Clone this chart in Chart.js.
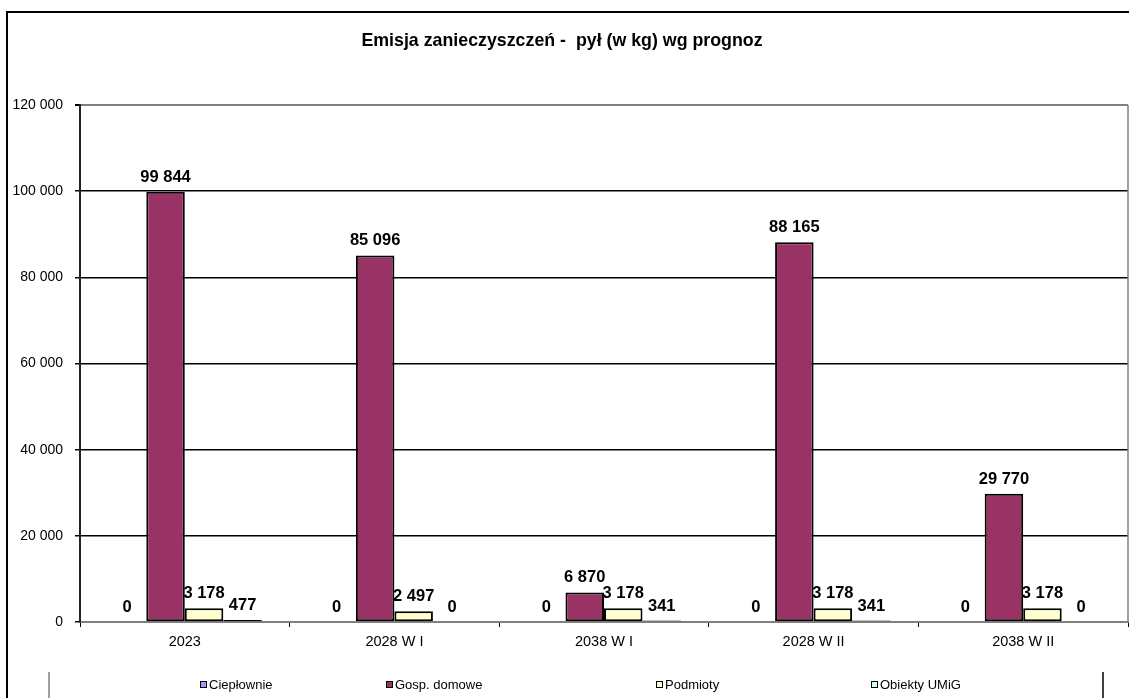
<!DOCTYPE html>
<html lang="pl">
<head>
<meta charset="utf-8">
<title>Emisja zanieczyszczeń - pył</title>
<script src="https://cdn.jsdelivr.net/npm/chart.js@4.4.1/dist/chart.umd.min.js"></script>
<style>
    html, body { margin: 0; padding: 0; background: #fff; }
    #wrap { width: 1129px; height: 698px; position: relative; }
</style>
</head>
<body>
<div id="wrap"><canvas id="emisjaChart"></canvas></div>
<script>
// Dane wykresu
const categories = ['2023', '2028 W I', '2038 W I', '2028 W II', '2038 W II'];
const cieplownie = [0, 0, 0, 0, 0];
const gospDomowe = [99844, 85096, 6870, 88165, 29770];
const podmioty = [3178, 2497, 3178, 3178, 3178];
const obiektyUMiG = [477, 0, 341, 341, 0];
const yTicks = [0, 20000, 40000, 60000, 80000, 100000, 120000];

const seriesNames = ['Ciepłownie', 'Gosp. domowe', 'Podmioty', 'Obiekty UMiG'];
const seriesColors = ['#9999FF', '#993366', '#FFFFCC', '#CCFFFF'];

const FONT = '"Liberation Sans", Arial, sans-serif';

// Format liczb ze spacją jako separatorem tysięcy
function fmt(v) {
    return String(v).replace(/\B(?=(\d{3})+(?!\d))/g, ' ');
}

// Rysowanie ramki, tytułu, etykiet wartości i legendy
const excelLook = {
    id: 'excelLook',
    beforeDraw(chart) {
        const ctx = chart.ctx;
        ctx.save();
        ctx.fillStyle = '#fff';
        ctx.fillRect(0, 0, chart.width, chart.height);
        ctx.restore();
    },
    afterDraw(chart) {
        const ctx = chart.ctx;
        const a = chart.chartArea;
        ctx.save();

        // ramka zewnętrzna
        ctx.strokeStyle = '#000';
        ctx.lineWidth = 2;
        ctx.beginPath();
        ctx.moveTo(7, chart.height);
        ctx.lineTo(7, 12);
        ctx.lineTo(chart.width, 12);
        ctx.stroke();

        // prawa krawędź obszaru wykresu
        ctx.strokeStyle = '#808080';
        ctx.lineWidth = 1.5;
        ctx.beginPath();
        ctx.moveTo(a.right, a.top);
        ctx.lineTo(a.right, a.bottom);
        ctx.stroke();

        // tytuł
        ctx.fillStyle = '#000';
        ctx.font = 'bold 17.8px ' + FONT;
        ctx.textAlign = 'center';
        ctx.textBaseline = 'middle';
        ctx.fillText('Emisja zanieczyszczeń -  pył (w kg) wg prognoz', 562, 41);

        // etykiety wartości nad słupkami
        ctx.font = 'bold 16.5px ' + FONT;
        ctx.textBaseline = 'alphabetic';
        chart.data.datasets.forEach((ds, i) => {
            chart.getDatasetMeta(i).data.forEach((el, j) => {
                ctx.fillText(fmt(ds.data[j]), el.x, el.y - 10);
            });
        });

        // legenda
        const legendX = [200, 386, 656, 871];
        const legendY = 685;
        ctx.font = '13px ' + FONT;
        ctx.textAlign = 'left';
        ctx.textBaseline = 'middle';
        seriesNames.forEach((name, i) => {
            ctx.fillStyle = seriesColors[i];
            ctx.fillRect(legendX[i], legendY - 4, 7, 7);
            ctx.strokeStyle = '#000';
            ctx.lineWidth = 1;
            ctx.strokeRect(legendX[i] + 0.5, legendY - 3.5, 6, 6);
            ctx.fillStyle = '#000';
            ctx.fillText(name, legendX[i] + 9, legendY);
        });

        // pionowe kreski przy legendzie
        ctx.lineWidth = 1.5;
        ctx.strokeStyle = '#808080';
        ctx.beginPath();
        ctx.moveTo(49, 672);
        ctx.lineTo(49, chart.height);
        ctx.stroke();
        ctx.strokeStyle = '#000';
        ctx.beginPath();
        ctx.moveTo(1103, 672);
        ctx.lineTo(1103, chart.height);
        ctx.stroke();

        ctx.restore();
    }
};

const datasets = [cieplownie, gospDomowe, podmioty, obiektyUMiG].map((values, i) => ({
    label: seriesNames[i],
    data: values,
    backgroundColor: seriesColors[i],
    borderColor: '#000',
    borderWidth: (c) => (c.raw === 0 ? 0 : 2),
    borderSkipped: false,
    categoryPercentage: 0.735,
    barPercentage: 1
}));

new Chart(document.getElementById('emisjaChart'), {
    type: 'bar',
    data: { labels: categories, datasets: datasets },
    options: {
        responsive: true,
        maintainAspectRatio: false,
        animation: false,
        layout: { padding: { top: 105, right: 1, left: 0, bottom: 0 } },
        plugins: {
            legend: { display: false },
            title: { display: false },
            tooltip: { enabled: false }
        },
        scales: {
            x: {
                afterFit: (scale) => { scale.height = 76; },
                grid: {
                    drawOnChartArea: false,
                    drawTicks: true,
                    tickLength: 5,
                    tickColor: '#000',
                    offset: true
                },
                border: { color: '#808080', width: 2 },
                ticks: {
                    color: '#000',
                    padding: 6,
                    font: { family: FONT, size: 14.5 }
                }
            },
            y: {
                min: 0,
                max: 120000,
                afterFit: (scale) => { scale.width = 80; },
                afterBuildTicks: (scale) => {
                    scale.ticks = yTicks.map((v) => ({ value: v }));
                },
                grid: {
                    color: (c) => (c.tick.value === 0 || c.tick.value === 120000 ? '#808080' : '#000'),
                    lineWidth: (c) => (c.tick.value === 120000 ? 2 : 1.5),
                    tickColor: '#000',
                    tickLength: 5
                },
                border: { color: '#222', width: 2 },
                ticks: {
                    color: '#000',
                    padding: 12,
                    font: { family: FONT, size: 14 },
                    callback: (v) => fmt(v)
                }
            }
        }
    },
    plugins: [excelLook]
});
</script>
</body>
</html>
